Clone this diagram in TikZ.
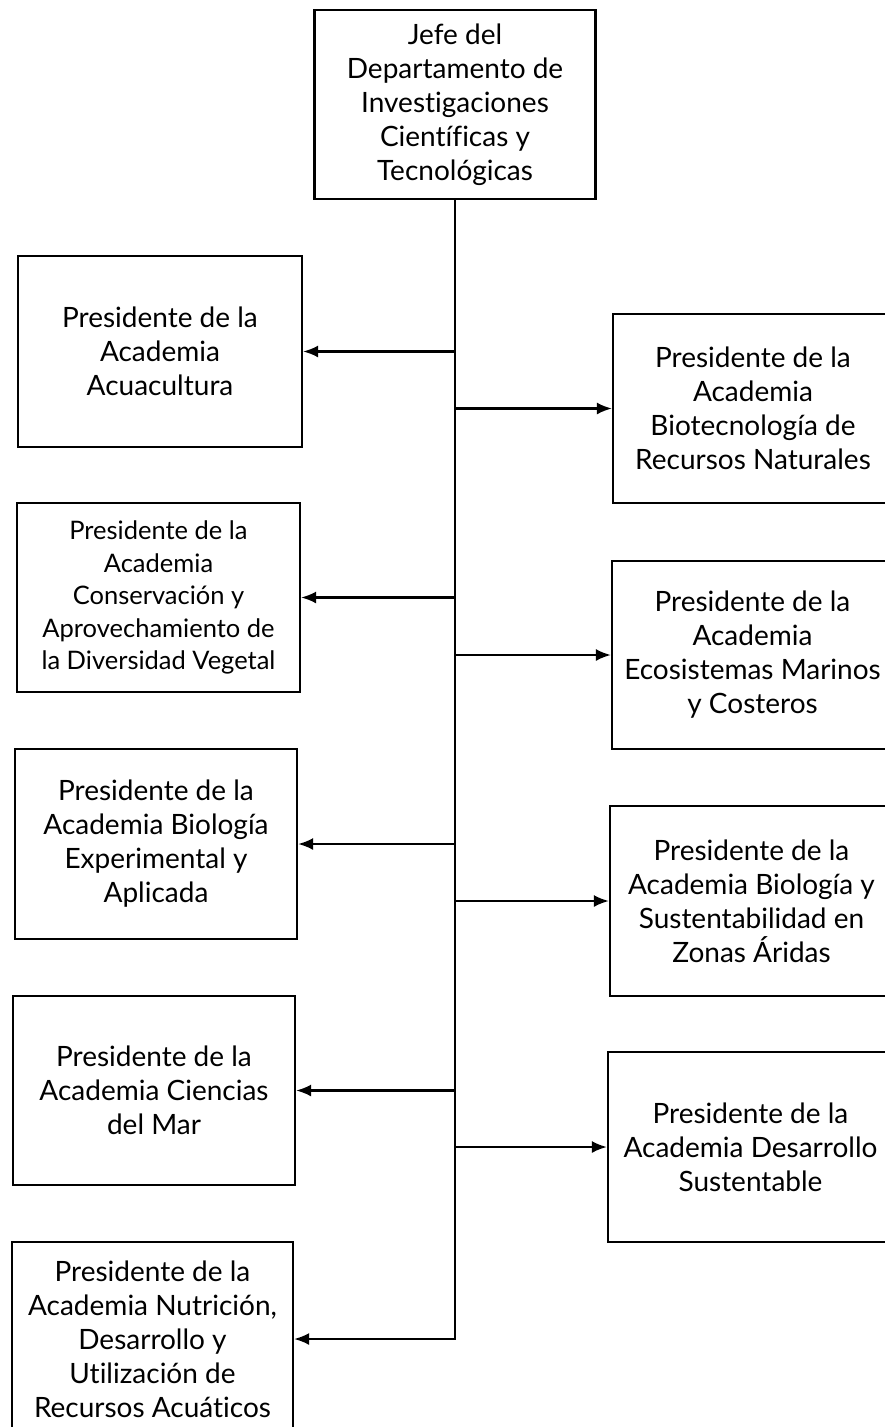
\documentclass[tikz,border=0pt]{standalone}
\usepackage{fontspec}
\setmainfont[Ligatures=NoCommon]{Lato}
\usepackage{tikz}
\usetikzlibrary{arrows.meta}

\tikzset{
    cargo/.style={draw=black, line width=2.2pt, align=center, inner sep=0pt,
        font=\fontsize{28}{34}\selectfont},
    chico/.style={font=\fontsize{25.5}{32.5}\selectfont},
    flecha/.style={line width=2.2pt, -{Latex[length=15pt,width=12pt]}}
}

\begin{document}
\begin{tikzpicture}[x=1pt, y=-1pt]
        \useasboundingbox (0, 0) rectangle (885, 1427);
        \clip (0, 0) rectangle (885, 1427);

        \node[cargo, minimum width=281pt, minimum height=189pt] (jefe) at (455, 104.5)
            {Jefe del\\Departamento de\\Investigaciones\\Científicas y\\Tecnológicas};

        \node[cargo, minimum width=284pt, minimum height=191pt] (acua) at (160, 351.5)
            {Presidente de la\\Academia\\Acuacultura};
        \node[cargo, chico, minimum width=283pt, minimum height=189pt] (vege) at (158.5, 597.5)
            {Presidente de la\\Academia\\Conservación y\\Aprovechamiento de\\la Diversidad Vegetal};
        \node[cargo, minimum width=282pt, minimum height=190pt] (expe) at (156, 844)
            {Presidente de la\\Academia Biología\\Experimental y\\Aplicada};
        \node[cargo, minimum width=282pt, minimum height=189pt] (mar) at (154, 1090.5)
            {Presidente de la\\Academia Ciencias\\del Mar};
        \node[cargo, minimum width=281pt, minimum height=194pt] (nutri) at (152.5, 1339)
            {Presidente de la\\Academia Nutrición,\\Desarrollo y\\Utilización de\\Recursos Acuáticos};

        \node[cargo, minimum width=280pt, minimum height=189pt] (biotec) at (753, 408.5)
            {Presidente de la\\Academia\\Biotecnología de\\Recursos Naturales};
        \node[cargo, minimum width=281pt, minimum height=188pt] (costa) at (752.5, 655)
            {Presidente de la\\Academia\\Ecosistemas Marinos\\y Costeros};
        \node[cargo, minimum width=283pt, minimum height=190pt] (arida) at (751.5, 901)
            {Presidente de la\\Academia Biología y\\Sustentabilidad en\\Zonas Áridas};
        \node[cargo, minimum width=285pt, minimum height=190pt] (susten) at (750.5, 1147)
            {Presidente de la\\Academia Desarrollo\\Sustentable};

        \draw[flecha] (jefe.south) |- (nutri.east);
        \draw[flecha] (jefe.south |- acua.east) -- (acua.east);
        \draw[flecha] (jefe.south |- vege.east) -- (vege.east);
        \draw[flecha] (jefe.south |- expe.east) -- (expe.east);
        \draw[flecha] (jefe.south |- mar.east) -- (mar.east);
        \draw[flecha] (jefe.south |- biotec.west) -- (biotec.west);
        \draw[flecha] (jefe.south |- costa.west) -- (costa.west);
        \draw[flecha] (jefe.south |- arida.west) -- (arida.west);
        \draw[flecha] (jefe.south |- susten.west) -- (susten.west);

    \end{tikzpicture}
\end{document}
